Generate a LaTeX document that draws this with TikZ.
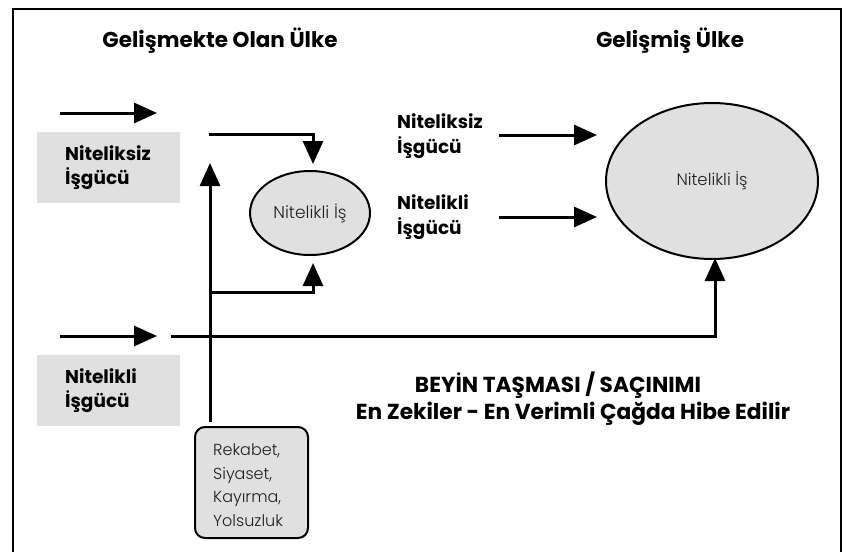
\documentclass[tikz,border=0pt]{standalone}
\usepackage{fontspec}
\setmainfont{Poppins}
\newfontfamily\lightfont{Poppins Light}
\usetikzlibrary{arrows.meta,shapes.geometric}
\definecolor{boxgray}{HTML}{E0E0E0}
\definecolor{softtext}{HTML}{202020}
\begin{document}
\begin{tikzpicture}[x=1pt,y=-1pt,
  conn/.style={line width=3pt,-{Triangle[length=23pt,width=20pt]}},
  titletext/.style={font=\bfseries\fontsize{21.5}{24}\selectfont,inner sep=0pt},
  lbl/.style={font=\bfseries\fontsize{18.5}{24.5}\selectfont,align=left,inner sep=0pt},
  gbox/.style={fill=boxgray,minimum width=143pt,minimum height=71pt,inner sep=0pt},
  jobell/.style={ellipse,draw,line width=2pt,fill=boxgray,inner sep=0pt,text=softtext},
  factor/.style={draw,line width=2pt,fill=boxgray,rounded corners=10pt,minimum width=113pt,minimum height=111pt,inner sep=0pt},
  factortext/.style={align=left,inner sep=0pt,font=\lightfont\fontsize{16}{23.5}\selectfont,text=softtext},
  bigtext/.style={font=\bfseries\fontsize{21.7}{24}\selectfont,inner sep=0pt}
]
\useasboundingbox (0,0) rectangle (845,552);
\draw[line width=2.5pt] (13,552) -- (13,9) -- (841,9) -- (841,552);

\node[titletext] (t1) at (220,41) {Gelişmekte Olan Ülke};
\node[titletext] (t2) at (670,41) {Gelişmiş Ülke};

\node[gbox] (b1) at (108.5,167.5) {};
\node[lbl,anchor=west] (b1t) at (65,167.5) {Niteliksiz\\İşgücü};
\node[gbox] (b2) at (108.5,390.5) {};
\node[lbl,anchor=west] (b2t) at (65,390.5) {Nitelikli\\İşgücü};

\node[jobell,minimum width=120pt,minimum height=84pt,font=\lightfont\fontsize{17}{18}\selectfont] (e1) at (310,213) {Nitelikli İş};
\node[jobell,minimum width=212pt,minimum height=156pt,font=\lightfont\fontsize{16.5}{18}\selectfont] (e2) at (712,181) {Nitelikli İş};

\node[factor] (f) at (251.5,482.5) {};
\node[factortext,anchor=west] (ft) at (213,485) {Rekabet,\\Siyaset,\\Kayırma,\\Yolsuzluk};

\node[lbl,anchor=west] (l1) at (397,136) {Niteliksiz\\İşgücü};
\node[lbl,anchor=west] (l2) at (397,217) {Nitelikli\\İşgücü};

\node[bigtext] (m1) at (558,385) {BEYİN TAŞMASI / SAÇINIMI};
\node[bigtext] (m2) at (573,414) {En Zekiler - En Verimli Çağda Hibe Edilir};

% free arrows on the left
\coordinate (a1s) at (60,113);
\coordinate (a1e) at (157,113);
\coordinate (a2s) at (60,336);
\coordinate (a2e) at (157,336);
\draw[conn] (a1s) -- (a1e);
\draw[conn] (a2s) -- (a2e);

% top feed into small ellipse
\coordinate (c1) at (209,134);
\draw[conn,shorten >=6pt] (c1) -| ([xshift=3pt]e1.north);

% vertical from factor box
\coordinate (v0) at (210,422);
\coordinate (v1) at (210,163);
\coordinate (vb) at (210,292);
\draw[conn] (v0) -- (v1);
\draw[conn,shorten >=7pt] (vb) -| ([xshift=3pt]e1.south);

% long line to big ellipse
\coordinate (h0) at (171,336);
\draw[conn,shorten >=-2pt] (h0) -| ([xshift=3pt]e2.south);

% right arrows
\coordinate (r1s) at (499,135);
\coordinate (r1e) at (597,135);
\coordinate (r2s) at (499,217);
\coordinate (r2e) at (597,217);
\draw[conn] (r1s) -- (r1e);
\draw[conn] (r2s) -- (r2e);
\end{tikzpicture}
\end{document}
